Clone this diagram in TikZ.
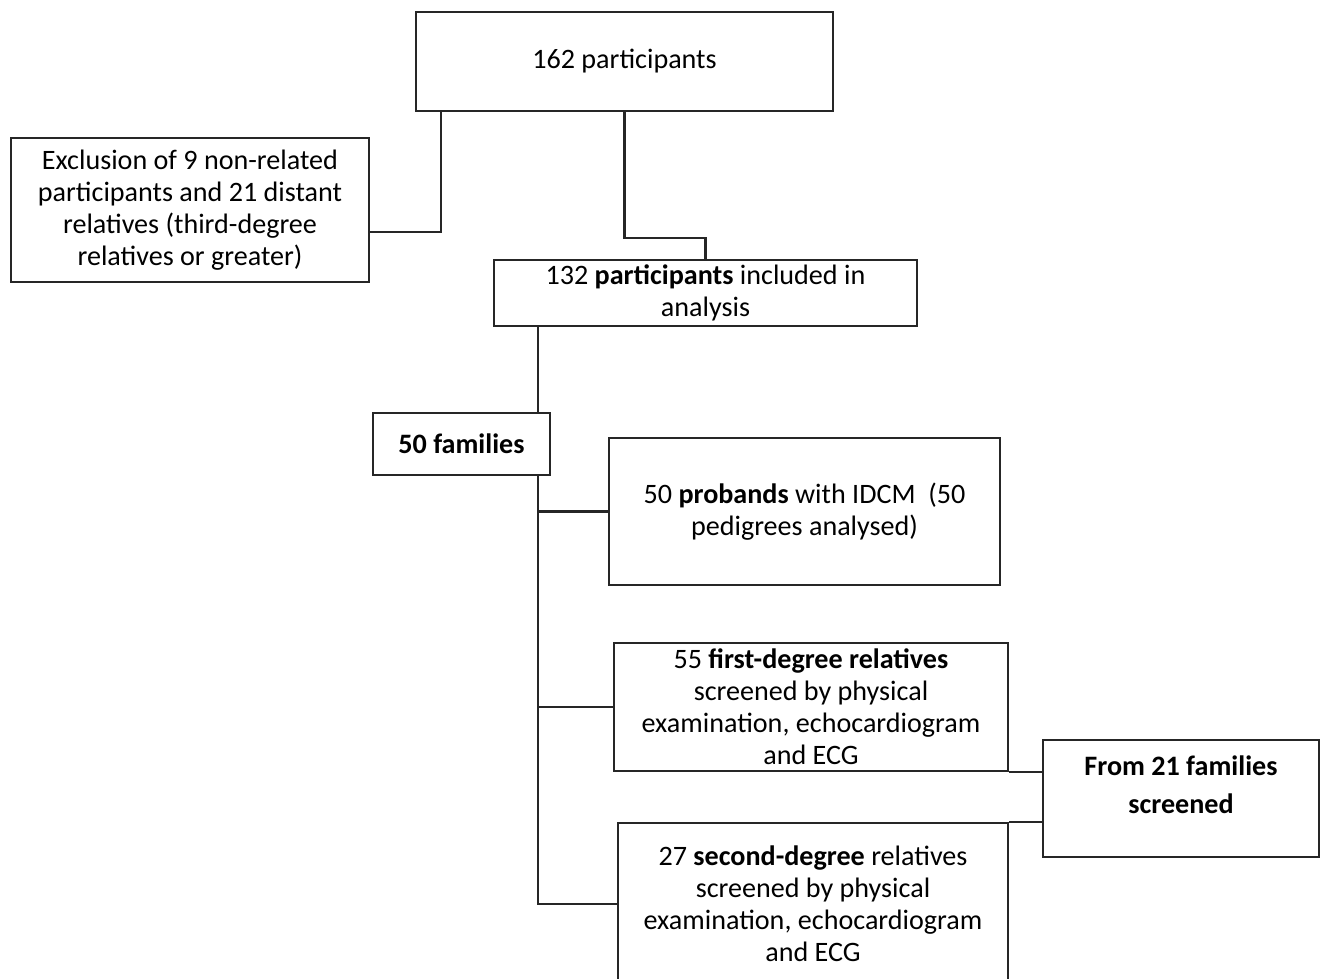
\documentclass[tikz,border=0pt]{standalone}
\usepackage{fontspec}
\setmainfont{Carlito}
\usepackage{tikz}
\usetikzlibrary{positioning, calc}
\tikzset{
  basebox/.style={rectangle,draw=black!85,line width=1.3pt,align=center,
    font=\fontsize{16}{18.2}\selectfont,inner sep=2pt},
  topbox/.style={basebox,minimum width=8.34cm,minimum height=1.98cm},
  exclbox/.style={basebox,minimum width=7.16cm,minimum height=2.88cm},
  inclbox/.style={basebox,minimum width=8.46cm,minimum height=1.32cm},
  fambox/.style={basebox,minimum width=3.54cm,minimum height=1.24cm,font=\fontsize{16}{18.2}\selectfont\bfseries},
  probbox/.style={basebox,minimum width=7.82cm,minimum height=2.94cm},
  relbox/.style={basebox,minimum width=7.88cm,minimum height=2.56cm},
  screenbox/.style={basebox,minimum width=5.52cm,minimum height=2.34cm,
    font=\fontsize{16}{21.6}\selectfont\bfseries},
  link/.style={draw=black!85,line width=1.3pt}
}

\begin{document}
\begin{tikzpicture}
  \useasboundingbox (0,0) rectangle (26.5,-19.58);
  \clip (0,0) rectangle (26.5,-19.58);

  \node[topbox] (total) at (12.49,-1.23) {162 participants};
  \node[exclbox] (excl) at (3.80,-4.20) {Exclusion of 9 non-related\\participants and 21 distant\\relatives (third-degree\\relatives or greater)};
  \node[inclbox] (incl) at (14.11,-5.86) {132 \textbf{participants} included in\\analysis};
  \node[fambox] (fam) at (9.23,-8.88) {50 families};
  \node[probbox] (prob) at (16.09,-10.23) {50 \textbf{probands} with IDCM~ (50\\pedigrees analysed)};
  \node[relbox] (first) at (16.22,-14.14) {55 \textbf{first-degree relatives}\\screened by physical\\examination, echocardiogram\\and ECG};
  \node[screenbox] (fam21) at (23.62,-15.97) {From 21 families\\screened\\[-0.2cm]\mbox{}};
  \node[relbox,minimum width=7.80cm,minimum height=3.24cm] (second) at (16.26,-18.08) {27 \textbf{second-degree} relatives\\screened by physical\\examination, echocardiogram\\and ECG};

  \draw[link] ([xshift=-3.67cm]total.south) |- ([yshift=-0.44cm]excl.east);
  \draw[link] (total.south) -- ++(0,-2.52) -| (incl.north);
  \draw[link] ([xshift=-3.35cm]incl.south) coordinate (trunk) -- (trunk |- fam.north);
  \draw[link] (trunk |- fam.south) |- (second.west);
  \draw[link] (trunk |- prob.west) -- (prob.west);
  \draw[link] (trunk |- first.west) -- (first.west);
  \draw[link] (first.south east) -- (first.south east -| fam21.west);
  \draw[link] (second.north east) -- (second.north east -| fam21.west);
\end{tikzpicture}
\end{document}
